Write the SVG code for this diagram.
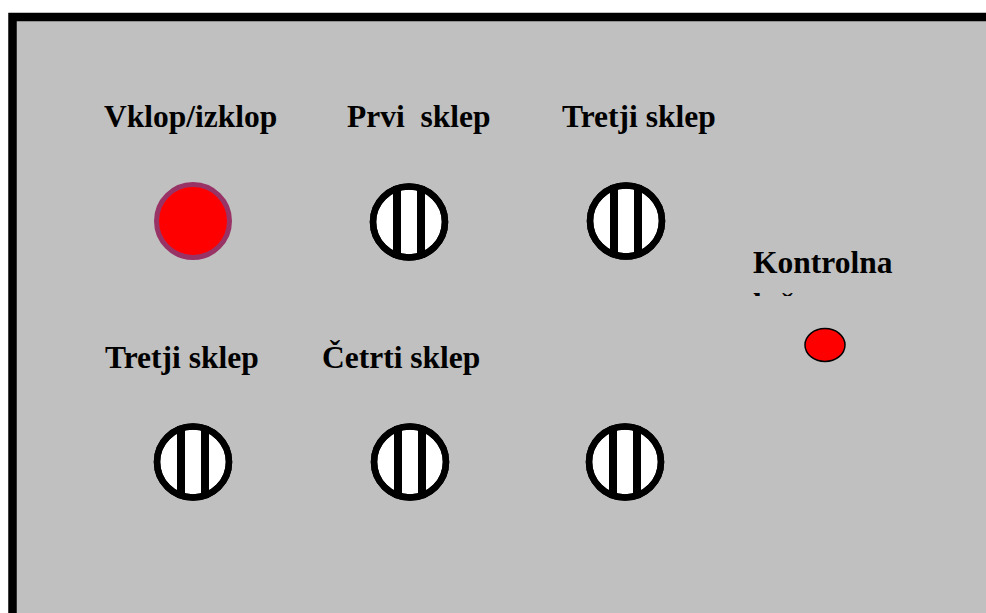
<svg xmlns="http://www.w3.org/2000/svg" width="986" height="613" viewBox="0 0 986 613">
  <style>
    .lbl { font-family: "Liberation Serif", "Times New Roman", serif; font-weight: bold; font-size: 31.5px; fill: #000; }
    .btn-ring { fill: #fff; stroke: #000; stroke-width: 6.5; }
    .bar { fill: #000; }
  </style>
  <defs>
    <clipPath id="clipLine">
      <rect x="740" y="280" width="200" height="16"/>
    </clipPath>
    <g id="switch">
      <ellipse class="btn-ring" cx="0" cy="0" rx="36" ry="35.5"/>
      <rect class="bar" x="-16" y="-36" width="8" height="72"/>
      <rect class="bar" x="8" y="-36" width="8" height="72"/>
      <ellipse cx="0" cy="0" rx="36" ry="35.5" fill="none" stroke="#000" stroke-width="6.5"/>
    </g>
  </defs>

  <rect x="0" y="0" width="986" height="613" fill="#fff"/>
  <g id="panel">
    <rect x="12.5" y="17" width="990" height="620" fill="#C0C0C0" stroke="#000" stroke-width="8.5"/>
  </g>

  <g id="connectors"></g>

  <g id="labels">
    <text class="lbl" x="104" y="127">Vklop/izklop</text>
    <text class="lbl" x="347" y="127" xml:space="preserve">Prvi  sklep</text>
    <text class="lbl" x="562" y="127">Tretji sklep</text>
    <text class="lbl" x="105" y="368">Tretji sklep</text>
    <text class="lbl" x="322" y="368">Četrti sklep</text>
    <text class="lbl" x="753" y="273">Kontrolna</text>
    <text class="lbl" x="753" y="315" clip-path="url(#clipLine)">luč</text>
  </g>

  <g id="power-button">
    <circle cx="193" cy="221" r="36.5" fill="#FF0000" stroke="#993366" stroke-width="5"/>
  </g>

  <g id="switch-1"><use href="#switch" x="409" y="222"/></g>
  <g id="switch-2"><use href="#switch" x="626" y="221"/></g>
  <g id="switch-3"><use href="#switch" x="193" y="462"/></g>
  <g id="switch-4"><use href="#switch" x="410" y="462"/></g>
  <g id="switch-5"><use href="#switch" x="625" y="462"/></g>

  <g id="control-lamp">
    <ellipse cx="825" cy="345" rx="20" ry="16.5" fill="#FF0000" stroke="#000" stroke-width="1.5"/>
  </g>
</svg>
